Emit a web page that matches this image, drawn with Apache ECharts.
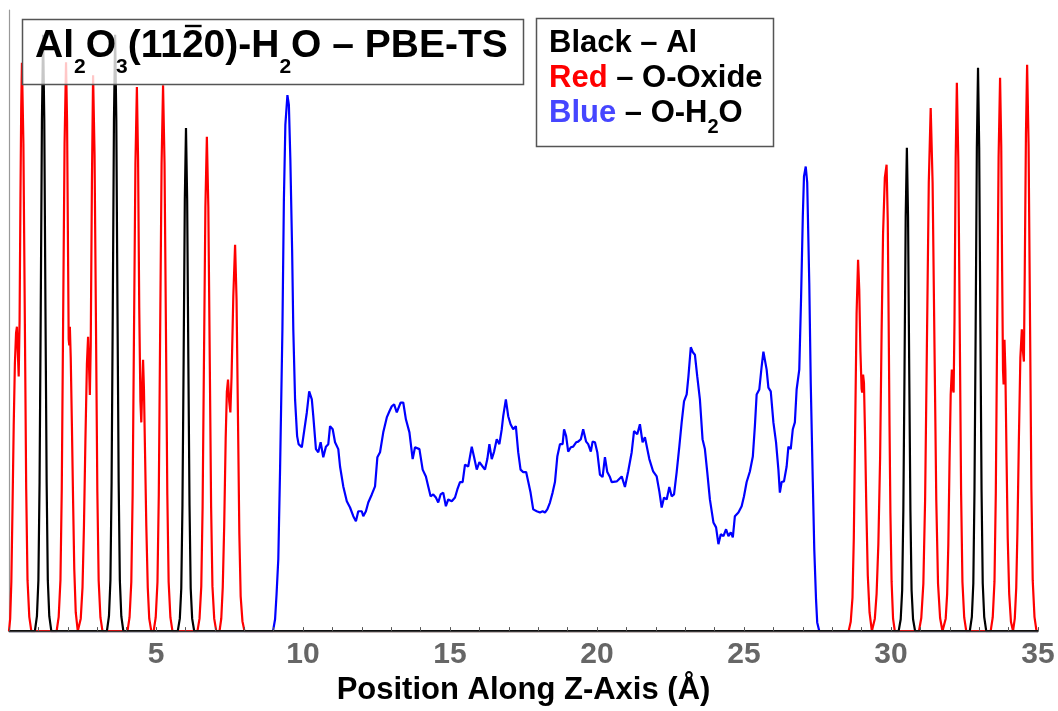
<!DOCTYPE html>
<html>
<head>
<meta charset="utf-8">
<script src="https://cdn.jsdelivr.net/npm/echarts@6/dist/echarts.min.js"></script>
<style>
html,body{margin:0;padding:0;background:#fff;}
#chart{width:1058px;height:711px;}
</style>
</head>
<body>
<div id="chart"></div>
<script>
// ---- data (x in Å, y = density in % of plot height) ----
const xTickLabels = [5, 10, 15, 20, 25, 30, 35];

const alDensity = [
  [0,0],
  [0.88,0],[0.95,2.4],[1.00,8.2],[1.04,24],[1.08,51.8],[1.12,82.3],[1.16,96],[1.20,82.3],[1.24,51.8],[1.28,24],[1.32,8.2],[1.37,2.4],[1.44,0],
  [3.33,0],[3.40,2.4],[3.45,8.2],[3.49,24],[3.53,51.8],[3.57,82.3],[3.61,96],[3.65,82.3],[3.69,51.8],[3.73,24],[3.77,8.2],[3.82,2.4],[3.89,0],
  [5.74,0],[5.81,2.0],[5.86,6.9],[5.90,20.3],[5.94,43.7],[5.98,69.4],[6.02,81],[6.06,69.4],[6.10,43.7],[6.14,20.3],[6.18,6.9],[6.23,2.0],[6.30,0],
  [30.26,0],[30.33,1.9],[30.38,6.6],[30.42,19.5],[30.46,42.0],[30.50,66.7],[30.54,77.8],[30.58,66.7],[30.62,42.0],[30.66,19.5],[30.70,6.6],[30.75,1.9],[30.82,0],
  [32.68,0],[32.75,2.3],[32.80,7.7],[32.84,22.7],[32.88,49.0],[32.92,77.7],[32.96,90.7],[33.00,77.7],[33.04,49.0],[33.08,22.7],[33.12,7.7],[33.17,2.3],[33.24,0],
  [35,0]
];

const oxideDensity = [
  [0,0],[0.04,2],[0.08,8],[0.12,20],[0.16,33],[0.20,43],[0.24,48],[0.27,49],[0.30,45],[0.33,41],[0.36,50],[0.39,70],[0.415,84],[0.44,91.5],[0.49,78.4],[0.54,49.4],[0.585,22.9],[0.63,8.2],[0.69,2.3],[0.76,0],
  [1.62,0],[1.69,2.3],[1.75,8.2],[1.795,22.9],[1.84,49.5],[1.89,78.5],[1.94,91.6],[1.975,82],[2.00,66],[2.03,47],[2.05,46],[2.07,49],[2.10,44],[2.14,33],[2.18,21],[2.22,10],[2.27,3],[2.34,0],
  [2.38,0],[2.44,2],[2.50,7],[2.55,17],[2.60,31],[2.65,43],[2.69,47.4],[2.72,43],[2.75,38],[2.78,46],[2.82,72],[2.86,89.5],[2.91,76.7],[2.96,48.3],[3.005,22.4],[3.05,8.1],[3.11,2.2],[3.18,0],
  [4.03,0],[4.10,2.2],[4.16,7.9],[4.205,21.9],[4.25,47.3],[4.30,75.1],[4.35,87.6],[4.39,76],[4.43,52],[4.47,37],[4.50,33.6],[4.53,39],[4.56,43.7],[4.59,39],[4.63,28],[4.67,17],[4.72,7],[4.77,2],[4.84,0],
  [4.92,0],[4.99,2.2],[5.05,7.9],[5.095,22.0],[5.14,47.5],[5.19,75.3],[5.24,87.9],[5.29,75.3],[5.34,47.5],[5.385,22.0],[5.43,7.9],[5.49,2.2],[5.56,0],
  [6.41,0],[6.48,2.0],[6.54,7.2],[6.585,19.9],[6.63,43.0],[6.68,68.2],[6.73,79.6],[6.78,68.2],[6.83,43.0],[6.875,19.9],[6.92,7.2],[6.98,2.0],[7.05,0],
  [7.16,0],[7.22,2],[7.27,7],[7.32,17],[7.37,31],[7.41,38.5],[7.45,40.5],[7.49,37],[7.53,35.2],[7.57,41],[7.63,54],[7.69,62.2],[7.74,53.3],[7.79,33.6],[7.835,15.6],[7.88,5.6],[7.94,1.6],[8.01,0],
  [28.56,0],[28.63,1.5],[28.69,5.4],[28.735,15],[28.78,32.3],[28.83,51.2],[28.88,59.8],[28.92,55],[28.96,45],[29.00,39],[29.02,38.4],[29.05,41.3],[29.08,40],[29.12,31],[29.16,20],[29.21,9],[29.27,3],[29.35,0],
  [29.38,0],[29.45,2],[29.51,6],[29.57,14],[29.63,28],[29.68,48],[29.73,64],[29.79,73],[29.85,75.1],[29.89,66],[29.92,50],[29.95,33],[29.98,19],[30.02,8],[30.07,2],[30.13,0],
  [30.95,0],[31.03,2.1],[31.10,7.6],[31.16,21.1],[31.22,45.5],[31.285,72.2],[31.35,84.2],[31.415,72.2],[31.48,45.5],[31.54,21.1],[31.60,7.6],[31.67,2.1],[31.75,0],
  [31.80,0],[31.86,2],[31.91,6],[31.95,14],[31.99,27],[32.03,38],[32.07,42.1],[32.10,39],[32.13,38.4],[32.16,50],[32.20,76],[32.24,88.3],[32.29,75.7],[32.34,47.7],[32.385,22.1],[32.43,7.9],[32.49,2.2],[32.56,0],
  [33.39,0],[33.46,2.2],[33.52,8.0],[33.565,22.3],[33.61,48.1],[33.66,76.4],[33.71,89.1],[33.75,78],[33.78,58],[33.81,42],[33.83,39.7],[33.86,46.9],[33.89,42],[33.93,28],[33.97,15],[34.02,6],[34.08,1.5],[34.15,0],
  [34.21,2],[34.26,7],[34.30,16],[34.35,31],[34.40,44],[34.45,48.6],[34.49,45],[34.52,43.4],[34.55,58],[34.59,80],[34.63,91.2],[34.68,78.2],[34.73,49.2],[34.775,22.8],[34.82,8.2],[34.88,2.3],[34.95,0],
  [35,0]
];

const waterDensity = [
  [0,0],[8.98,0],[9.05,1.9],[9.10,5.9],[9.16,11.6],[9.22,26.0],[9.30,48.6],[9.35,69.5],[9.40,81.5],[9.47,86.3],[9.52,84.7],[9.57,75.9],[9.63,61.4],[9.67,48.6],[9.73,37.3],[9.80,31.4],[9.85,30.1],
  [9.96,29.6],[10.00,30.9],[10.13,35.2],[10.21,38.6],[10.30,37.3],[10.35,34.6],[10.44,29.3],[10.52,28.8],[10.60,30.4],[10.69,28.0],[10.78,29.7],[10.86,30.1],[10.92,33.0],[11.01,32.5],[11.09,30.4],
  [11.20,29.3],[11.26,26.5],[11.37,23.3],[11.49,20.9],[11.60,19.9],[11.71,18.5],[11.80,17.7],[11.88,19.3],[12.00,19.3],[12.05,18.5],[12.14,19.3],[12.22,20.7],[12.34,22.0],[12.45,23.3],[12.53,28.0],
  [12.62,28.8],[12.73,32.0],[12.85,34.4],[12.94,35.4],[13.02,36.2],[13.10,36.5],[13.19,35.2],[13.24,35.2],[13.32,36.8],[13.41,36.8],[13.50,34.1],[13.62,32.0],[13.73,27.7],[13.81,29.6],[13.96,29.3],
  [14.07,26.0],[14.18,24.9],[14.26,23.3],[14.34,21.7],[14.43,22.0],[14.52,21.5],[14.60,20.7],[14.68,22.0],[14.77,22.3],[14.86,20.1],[14.94,21.2],[15.06,20.9],[15.17,21.5],[15.25,22.8],[15.34,24.0],
  [15.43,24.0],[15.51,26.8],[15.62,26.5],[15.74,29.7],[15.82,28.0],[15.91,26.0],[16.00,27.2],[16.11,26.5],[16.19,26.0],[16.27,27.7],[16.34,30.1],[16.42,27.7],[16.50,28.9],[16.59,30.9],[16.68,30.1],
  [16.76,32.5],[16.81,34.6],[16.90,37.3],[16.98,34.6],[17.06,33.3],[17.15,32.5],[17.24,33.0],[17.32,28.8],[17.40,26.0],[17.49,25.6],[17.59,25.6],[17.66,24.1],[17.74,22.3],[17.83,19.6],[17.95,19.3],
  [18.06,19.1],[18.15,19.3],[18.23,19.1],[18.31,19.6],[18.40,20.7],[18.49,22.3],[18.57,24.0],[18.65,28.1],[18.74,30.1],[18.83,30.1],[18.88,32.5],[18.95,31.4],[19.02,28.9],[19.11,29.6],[19.19,29.7],
  [19.29,30.4],[19.36,30.5],[19.45,30.9],[19.53,32.5],[19.63,30.5],[19.70,30.1],[19.79,28.9],[19.85,30.5],[19.93,30.4],[20.01,28.8],[20.10,25.2],[20.19,24.8],[20.27,28.0],[20.35,25.6],[20.44,24.8],
  [20.50,24.0],[20.67,24.1],[20.84,24.9],[20.95,23.2],[21.06,25.7],[21.18,28.8],[21.26,32.2],[21.37,31.7],[21.46,33.3],[21.55,30.4],[21.63,31.2],[21.78,27.7],[21.91,25.7],[22.03,24.9],[22.12,22.5],
  [22.20,19.9],[22.28,21.5],[22.37,21.2],[22.46,23.2],[22.54,21.7],[22.62,22.0],[22.71,25.6],[22.80,29.7],[22.88,33.6],[22.96,37.0],[23.05,38.1],[23.11,41.0],[23.19,45.7],[23.26,44.9],[23.33,44.5],
  [23.41,41.0],[23.50,37.3],[23.59,30.9],[23.67,29.3],[23.75,25.6],[23.84,21.2],[23.96,17.5],[24.05,16.7],[24.13,14.0],[24.21,15.6],[24.30,15.3],[24.39,16.4],[24.47,15.3],[24.55,15.9],[24.62,15.1],
  [24.69,18.5],[24.81,19.1],[24.92,20.1],[25.00,21.7],[25.09,24.0],[25.20,25.7],[25.30,28.1],[25.37,33.0],[25.43,38.1],[25.52,38.9],[25.60,42.6],[25.66,45.0],[25.71,45.3],[25.77,42.1],[25.83,39.2],
  [25.91,38.6],[26.00,33.6],[26.09,30.4],[26.17,26.0],[26.22,22.3],[26.28,24.0],[26.36,24.1],[26.45,26.5],[26.51,29.7],[26.59,29.3],[26.66,32.5],[26.73,33.6],[26.79,38.9],[26.88,42.1],[26.94,53.4],
  [27.00,66.7],[27.04,73.2],[27.10,74.8],[27.15,72.2],[27.22,56.1],[27.27,40.0],[27.34,24.0],[27.39,13.2],[27.45,5.1],[27.49,1.4],[27.56,0],[35,0]
];

// ---- text content ----
const titleRuns = [
  {t:'Al'}, {t:'2', sub:true}, {t:'O'}, {t:'3', sub:true}, {t:'(11'}, {t:'2', over:true},
  {t:'0)-H'}, {t:'2', sub:true}, {t:'O \u2013 PBE-TS'}
];
const legendLines = [
  [{t:'Black', c:'#000000'}, {t:' \u2013 Al'}],
  [{t:'Red', c:'#ff0000'}, {t:' \u2013 O-Oxide'}],
  [{t:'Blue', c:'#4646ff'}, {t:' \u2013 O-H'}, {t:'2', sub:true}, {t:'O'}]
];

const FONT = "'Liberation Sans', Arial, sans-serif";
const mctx = document.createElement('canvas').getContext('2d');

function layoutRuns(list, x0, y, size, subSize, subDy, overDy) {
  let x = x0;
  const els = [];
  list.forEach(r => {
    const fs = r.sub ? subSize : size;
    const font = 'bold ' + fs + 'px ' + FONT;
    mctx.font = font;
    const w = mctx.measureText(r.t).width;
    els.push({
      type: 'text', z: 101,
      x: x, y: r.sub ? y + subDy : y,
      style: {
        text: r.t, fill: r.c || '#000', font: font,
        align: 'left', verticalAlign: 'middle',
        textAlign: 'left', textVerticalAlign: 'middle'
      }
    });
    if (r.over) {
      els.push({
        type: 'line', z: 101,
        shape: {x1: x + 3, y1: y + overDy, x2: x + w - 2, y2: y + overDy},
        style: {stroke: '#000', lineWidth: 2.4}
      });
    }
    x += w;
  });
  return els;
}

const graphics = [];
graphics.push({
  type: 'rect', z: 100,
  shape: {x: 22.5, y: 19.5, width: 501, height: 65},
  style: {fill: 'rgba(255,255,255,0.78)', stroke: '#555', lineWidth: 1.5}
});
graphics.push(...layoutRuns(titleRuns, 35, 46, 39, 21, 21, -20));
graphics.push({
  type: 'rect', z: 100,
  shape: {x: 536.5, y: 18.5, width: 237, height: 128},
  style: {fill: 'rgba(255,255,255,0.85)', stroke: '#555', lineWidth: 1.5}
});
const legendY = [43, 78, 113];
legendLines.forEach((line, i) => {
  graphics.push(...layoutRuns(line, 549, legendY[i], 31, 20, 14, -19));
});

const chart = echarts.init(document.getElementById('chart'), null, {renderer: 'canvas'});
const lineSeries = (data, color, z) => ({
  type: 'line', data: data, showSymbol: false, symbol: 'none', silent: true,
  lineStyle: {color: color, width: 2.2}, itemStyle: {color: color}, z: z
});
chart.setOption({
  animation: false,
  backgroundColor: '#ffffff',
  grid: {left: 9, right: 20, top: 10, bottom: 79, containLabel: false},
  xAxis: {
    type: 'value', min: 0, max: 35, interval: 5, z: 10,
    axisLine: {show: true, onZero: false, lineStyle: {color: '#3a3a3a', width: 1.4}},
    axisTick: {show: true, inside: true, length: 4, lineStyle: {color: '#555'}},
    minorTick: {show: true, splitNumber: 5, length: 4, lineStyle: {color: '#555'}},
    splitLine: {show: false},
    minorSplitLine: {show: false},
    axisLabel: {
      margin: 9, color: '#666', fontSize: 30, fontWeight: 'bold', fontFamily: FONT,
      formatter: v => (xTickLabels.indexOf(v) >= 0 ? String(v) : '')
    },
    name: 'Position Along Z-Axis (\u00c5)', nameLocation: 'middle', nameGap: 42,
    nameTextStyle: {color: '#000', fontSize: 31, fontWeight: 'bold', fontFamily: FONT}
  },
  yAxis: {
    type: 'value', min: 0, max: 100,
    axisLine: {show: true, lineStyle: {color: '#999', width: 1.2}},
    axisTick: {show: false}, axisLabel: {show: false}, splitLine: {show: false}
  },
  series: [
    lineSeries(waterDensity, '#0000ff', 2),
    lineSeries(oxideDensity, '#ff0000', 3),
    lineSeries(alDensity, '#000000', 4)
  ],
  graphic: graphics
});
</script>
</body>
</html>
